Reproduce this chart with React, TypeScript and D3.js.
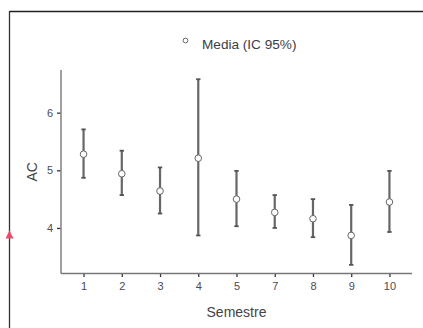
import React, { useEffect, useRef } from 'react';
import * as d3 from 'd3';

const semestres = ['1', '2', '3', '4', '5', '7', '8', '9', '10'];
const medias = [5.28, 4.94, 4.64, 5.21, 4.5, 4.27, 4.16, 3.87, 4.45];
const icLower = [4.87, 4.57, 4.25, 3.87, 4.03, 4.0, 3.84, 3.36, 3.93];
const icUpper = [5.71, 5.34, 5.05, 6.58, 4.99, 4.57, 4.5, 4.4, 4.99];
const yTicks = [4, 5, 6];

const W = 423;
const H = 328;

const App: React.FC = () => {
  const svgRef = useRef<SVGSVGElement>(null);

  useEffect(() => {
    if (!svgRef.current) return;
    const svg = d3.select(svgRef.current);
    svg.selectAll('*').remove();

    const font = "'Liberation Sans', Arial, sans-serif";
    const left = 61;
    const right = 412;
    const top = 70;
    const bottom = 273.5;

    const x = d3.scalePoint<string>().domain(semestres).range([left, right]).padding(0.59);
    const y = d3.scaleLinear().domain([3.21, 6.74]).range([bottom, top]);

    // outer frame
    svg.append('line').attr('x1', 9.5).attr('x2', W).attr('y1', 11.5).attr('y2', 11.5)
      .attr('stroke', '#222').attr('stroke-width', 1.5);
    svg.append('line').attr('x1', 9.5).attr('x2', 9.5).attr('y1', 11).attr('y2', H)
      .attr('stroke', '#333').attr('stroke-width', 1.3);
    svg.append('path')
      .attr('d', 'M9.5,230.5 L13.5,238.5 L5.5,238.5 Z')
      .attr('fill', '#ef4a6d');

    // axes
    const yAxis = d3.axisLeft(y).tickValues(yTicks).tickSize(4).tickPadding(4).tickFormat(d3.format('d'));
    const gy = svg.append('g').attr('transform', `translate(${left},0)`).call(yAxis);
    gy.select('.domain').remove();
    gy.selectAll('line').attr('stroke', '#333').attr('stroke-width', 1.3);
    gy.selectAll('text').attr('font-family', font).attr('font-size', 11).attr('fill', '#4a4a55');
    svg.append('line').attr('x1', left).attr('x2', left).attr('y1', top).attr('y2', bottom)
      .attr('stroke', '#888').attr('stroke-width', 1.6);

    const xAxis = d3.axisBottom(x).tickSize(3.5).tickPadding(5);
    const gx = svg.append('g').attr('transform', `translate(0,${bottom})`).call(xAxis);
    gx.select('.domain').remove();
    gx.selectAll('line').attr('stroke', '#333').attr('stroke-width', 1.3);
    gx.selectAll('text').attr('font-family', font).attr('font-size', 11).attr('fill', '#4a4a55');
    svg.append('line').attr('x1', left).attr('x2', right).attr('y1', bottom).attr('y2', bottom)
      .attr('stroke', '#777').attr('stroke-width', 1.6);

    // titles
    svg.append('text').attr('x', (left + right) / 2).attr('y', 317)
      .attr('text-anchor', 'middle').attr('font-family', font).attr('font-size', 14)
      .attr('fill', '#444').text('Semestre');
    svg.append('text')
      .attr('transform', `translate(37,${(top + bottom) / 2}) rotate(-90)`)
      .attr('text-anchor', 'middle').attr('font-family', font).attr('font-size', 14)
      .attr('fill', '#444').text('AC');

    // error bars
    const rows = semestres.map((s, i) => ({ s, m: medias[i], lo: icLower[i], hi: icUpper[i] }));
    const g = svg.append('g');
    rows.forEach(d => {
      const cx = x(d.s)!;
      g.append('line').attr('x1', cx).attr('x2', cx).attr('y1', y(d.hi)).attr('y2', y(d.lo))
        .attr('stroke', '#666').attr('stroke-width', 2.2);
      [d.hi, d.lo].forEach(v => {
        g.append('line').attr('x1', cx - 2.2).attr('x2', cx + 2.2).attr('y1', y(v)).attr('y2', y(v))
          .attr('stroke', '#555').attr('stroke-width', 1.8);
      });
      g.append('circle').attr('cx', cx).attr('cy', y(d.m)).attr('r', 3.3)
        .attr('fill', '#fff').attr('stroke', '#666').attr('stroke-width', 1);
    });

    // legend
    svg.append('circle').attr('cx', 185.5).attr('cy', 40.5).attr('r', 2.4)
      .attr('fill', '#fff').attr('stroke', '#666').attr('stroke-width', 1);
    svg.append('text').attr('x', 202).attr('y', 48.5).attr('font-family', font)
      .attr('font-size', 13.6).attr('fill', '#3d3d48').text('Media (IC 95%)');
  }, []);

  return (
    <div style={{ position: 'absolute', left: 0, top: 0, width: W, height: H, background: '#fff' }}>
      <svg ref={svgRef} width={W} height={H} />
    </div>
  );
};

export default App;
